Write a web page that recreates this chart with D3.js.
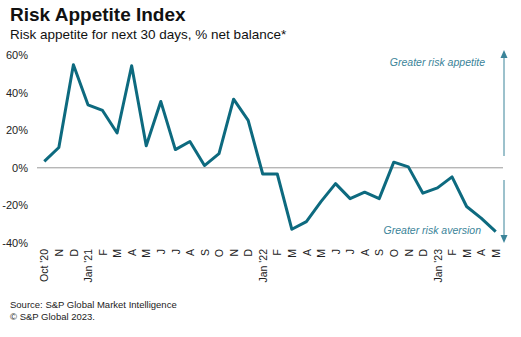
<!DOCTYPE html>
<meta charset="utf-8">
<style>
    body { margin: 0; background: #fff; }
    svg { font-family: "Liberation Sans", Arial, sans-serif; }
    .axis path, .axis line { display: none; }
    .axis text { fill: #222; font-size: 11px; }
</style>
<svg width="521" height="337"></svg>
<script src="https://d3js.org/d3.v7.min.js"></script>
<script>

    var months = ["Oct '20", "N", "D", "Jan '21", "F", "M", "A", "M", "J", "J", "A", "S", "O", "N", "D",
        "Jan '22", "F", "M", "A", "M", "J", "J", "A", "S", "O", "N", "D",
        "Jan '23", "F", "M", "A", "M"];
    var values = [3.4, 10.8, 54.8, 33.5, 30.5, 18.5, 54.3, 11.7, 35.3, 9.7, 14, 1.2, 7.5, 36.5, 25.2,
        -3.3, -3.3, -32.7, -28.6, -18, -8.4, -16.4, -13, -16.4, 3, 0.5, -13.5, -10.7, -4.8, -20.6, -26.8, -34];
    var yTicks = [60, 40, 20, 0, -20, -40];

    var svg = d3.select("svg"),
        plot = {left: 37, right: 503, top: 55, bottom: 243};

    var x = d3.scalePoint()
        .domain(d3.range(months.length))
        .range([plot.left, plot.right])
        .padding(0.5);

    var y = d3.scaleLinear().domain([-40, 60]).range([plot.bottom, plot.top]);

    svg.append("text")
        .attr("x", 10).attr("y", 21)
        .style("font-size", "19px").style("font-weight", "bold").attr("fill", "#111")
        .text("Risk Appetite Index");
    svg.append("text")
        .attr("x", 10).attr("y", 39)
        .style("font-size", "13.5px").attr("fill", "#111")
        .text("Risk appetite for next 30 days, % net balance*");

    svg.append("g")
        .attr("class", "axis")
        .attr("transform", "translate(" + (plot.left - 9) + ",0)")
        .call(d3.axisLeft(y).tickValues(yTicks).tickSize(0).tickPadding(0)
            .tickFormat(function(d) { return d + "%"; }));

    svg.append("line")
        .attr("x1", plot.left).attr("x2", plot.right)
        .attr("y1", y(0)).attr("y2", y(0))
        .attr("stroke", "#999").attr("stroke-width", 1);

    var xg = svg.append("g")
        .attr("class", "axis")
        .attr("transform", "translate(0," + 249 + ")")
        .call(d3.axisBottom(x).tickSize(0).tickFormat(function(i) { return months[i]; }));
    xg.selectAll("text")
        .style("font-size", "10.5px")
        .attr("text-anchor", "end")
        .attr("transform", "rotate(-90)")
        .attr("x", 0).attr("y", 0).attr("dy", "0.35em");

    var line = d3.line()
        .x(function(d, i) { return x(i); })
        .y(function(d) { return y(d); });

    svg.append("path")
        .datum(values)
        .attr("fill", "none")
        .attr("stroke", "#0d6a7f")
        .attr("stroke-width", 3)
        .attr("stroke-linejoin", "round")
        .attr("d", line);

    // direction arrows
    var ac = "#3b8499", ax = 504;
    svg.append("line").attr("x1", ax).attr("x2", ax).attr("y1", 56).attr("y2", 156)
        .attr("stroke", ac).attr("stroke-width", 1);
    svg.append("path").attr("d", "M" + (ax - 3.5) + ",58L" + ax + ",50L" + (ax + 3.5) + ",58Z").attr("fill", ac);
    svg.append("line").attr("x1", ax).attr("x2", ax).attr("y1", 180).attr("y2", 236)
        .attr("stroke", ac).attr("stroke-width", 1);
    svg.append("path").attr("d", "M" + (ax - 3.5) + ",235L" + ax + ",243L" + (ax + 3.5) + ",235Z").attr("fill", ac);

    svg.append("text")
        .attr("x", 485).attr("y", 66).attr("text-anchor", "end")
        .style("font-size", "10.5px").style("font-style", "italic").attr("fill", ac)
        .text("Greater risk appetite");
    svg.append("text")
        .attr("x", 481).attr("y", 234).attr("text-anchor", "end")
        .style("font-size", "10.5px").style("font-style", "italic").attr("fill", ac)
        .text("Greater risk aversion");

    svg.append("text")
        .attr("x", 10).attr("y", 308)
        .style("font-size", "9.5px").attr("fill", "#222")
        .text("Source: S&P Global Market Intelligence");
    svg.append("text")
        .attr("x", 10).attr("y", 320)
        .style("font-size", "9.5px").attr("fill", "#222")
        .text("© S&P Global 2023.");

</script>
